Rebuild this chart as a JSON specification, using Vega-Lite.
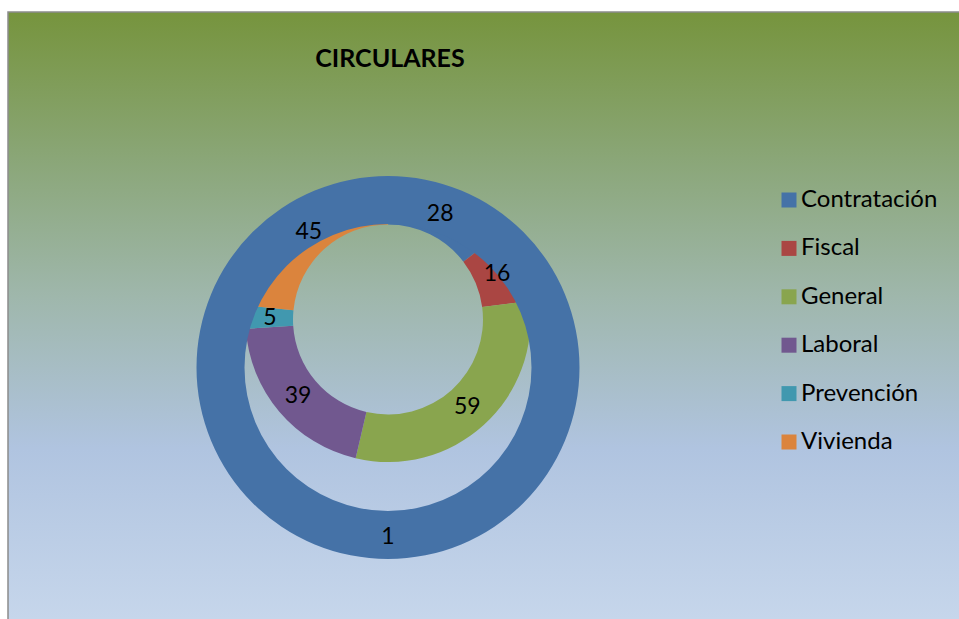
{
  "$schema": "https://vega.github.io/schema/vega-lite/v6.json",
  "width": 959,
  "height": 619,
  "autosize": {"type": "fit", "contains": "padding"},
  "padding": {"left": 8, "top": 12, "right": 0, "bottom": 0},
  "background": "white",
  "title": {
    "text": "CIRCULARES",
    "font": "Lato",
    "fontSize": 25,
    "fontWeight": "bold",
    "color": "black",
    "anchor": "middle",
    "frame": "group",
    "dx": -93.5,
    "offset": -80,
    "baseline": "alphabetic"
  },
  "config": {
    "view": {
      "fill": {
        "gradient": "linear",
        "x1": 0, "y1": 0, "x2": 0, "y2": 1,
        "stops": [
          {"offset": 0, "color": "#76943D"},
          {"offset": 0.24, "color": "#8AA677"},
          {"offset": 0.47, "color": "#9FB7AC"},
          {"offset": 0.72, "color": "#B0C4E0"},
          {"offset": 1, "color": "#C6D6EB"}
        ]
      },
      "stroke": "#8C8C8C",
      "strokeWidth": 1.5,
      "strokeDash": [951, 1558, 607]
    }
  },
  "data": {
    "values": [
      {"anillo": "interior", "categoria": "Contratación", "valor": 28},
      {"anillo": "interior", "categoria": "Fiscal", "valor": 16},
      {"anillo": "interior", "categoria": "General", "valor": 59},
      {"anillo": "interior", "categoria": "Laboral", "valor": 39},
      {"anillo": "interior", "categoria": "Prevención", "valor": 5},
      {"anillo": "interior", "categoria": "Vivienda", "valor": 45},
      {"anillo": "exterior", "categoria": "Contratación", "valor": 1}
    ]
  },
  "layer": [
    {
      "transform": [{"filter": "datum.anillo === 'interior'"}],
      "mark": {"type": "arc", "innerRadius": 95, "outerRadius": 142.5},
      "encoding": {
        "x": {"field": "anillo", "type": "nominal", "scale": {"domain": ["interior", "exterior"], "range": [380, 380], "padding": 0}, "axis": null},
        "y": {"field": "anillo", "type": "nominal", "scale": {"domain": ["interior", "exterior"], "range": [307.5, 355.5], "padding": 0}, "axis": null},
        "theta": {"field": "valor", "type": "quantitative", "stack": true},
        "order": {"field": "categoria", "type": "ordinal", "sort": "ascending"},
        "color": {
          "field": "categoria",
          "type": "nominal",
          "scale": {
            "domain": ["Contratación", "Fiscal", "General", "Laboral", "Prevención", "Vivienda"],
            "range": ["#4572A7", "#AA4643", "#89A54E", "#71588F", "#4198AF", "#DB843D"]
          },
          "legend": {
            "title": null,
            "orient": "none",
            "legendX": 769,
            "legendY": 176,
            "padding": 0,
            "symbolType": "square",
            "symbolSize": 225,
            "symbolStrokeWidth": 0,
            "symbolOpacity": 1,
            "labelFont": "Lato",
            "labelFontSize": 24,
            "labelColor": "black",
            "labelOffset": 0,
            "rowPadding": 24.4
          }
        }
      }
    },
    {
      "transform": [{"filter": "datum.anillo === 'exterior'"}],
      "mark": {"type": "arc", "innerRadius": 143.5, "outerRadius": 191.5},
      "encoding": {
        "x": {"field": "anillo", "type": "nominal", "scale": {"domain": ["interior", "exterior"], "range": [380, 380], "padding": 0}, "axis": null},
        "y": {"field": "anillo", "type": "nominal", "scale": {"domain": ["interior", "exterior"], "range": [307.5, 355.5], "padding": 0}, "axis": null},
        "theta": {"field": "valor", "type": "quantitative", "stack": true},
        "order": {"field": "categoria", "type": "ordinal", "sort": "ascending"},
        "color": {"field": "categoria", "type": "nominal"}
      }
    },
    {
      "transform": [{"filter": "datum.anillo === 'interior'"}],
      "mark": {"type": "text", "radius": 118, "font": "Lato", "fontSize": 23, "color": "black", "align": "center", "baseline": "middle"},
      "encoding": {
        "x": {"field": "anillo", "type": "nominal", "scale": {"domain": ["interior", "exterior"], "range": [380, 380], "padding": 0}, "axis": null},
        "y": {"field": "anillo", "type": "nominal", "scale": {"domain": ["interior", "exterior"], "range": [307.5, 355.5], "padding": 0}, "axis": null},
        "theta": {"field": "valor", "type": "quantitative", "stack": true},
        "order": {"field": "categoria", "type": "ordinal", "sort": "ascending"},
        "detail": {"field": "categoria", "type": "nominal"},
        "text": {"field": "valor", "type": "quantitative"}
      }
    },
    {
      "transform": [{"filter": "datum.anillo === 'exterior'"}],
      "mark": {"type": "text", "radius": 169, "font": "Lato", "fontSize": 23, "color": "black", "align": "center", "baseline": "middle"},
      "encoding": {
        "x": {"field": "anillo", "type": "nominal", "scale": {"domain": ["interior", "exterior"], "range": [380, 380], "padding": 0}, "axis": null},
        "y": {"field": "anillo", "type": "nominal", "scale": {"domain": ["interior", "exterior"], "range": [307.5, 355.5], "padding": 0}, "axis": null},
        "theta": {"field": "valor", "type": "quantitative", "stack": true},
        "order": {"field": "categoria", "type": "ordinal", "sort": "ascending"},
        "detail": {"field": "categoria", "type": "nominal"},
        "text": {"field": "valor", "type": "quantitative"}
      }
    }
  ],
  "resolve": {"scale": {"theta": "independent"}}
}
